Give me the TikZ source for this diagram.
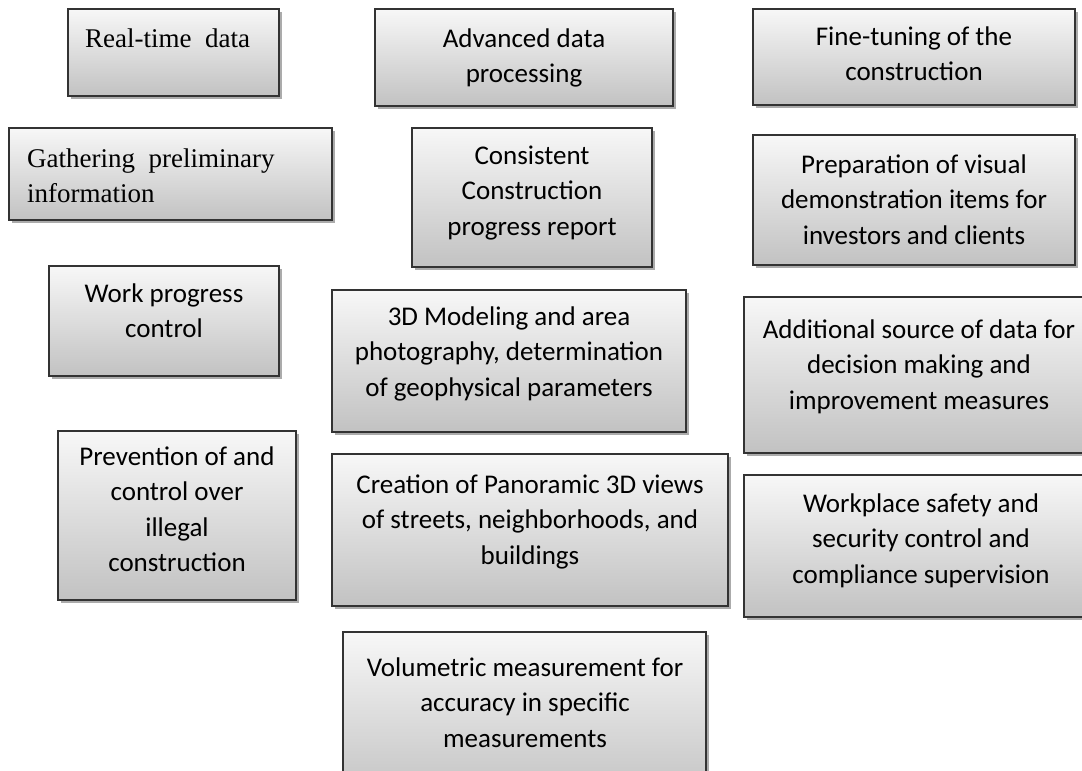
\documentclass[tikz,border=0pt]{standalone}
\usepackage{fontspec}
\setmainfont{Liberation Serif}
\setsansfont{Carlito}
\usetikzlibrary{shadows}
\begin{document}
\begin{tikzpicture}[x=1pt,y=-1pt,
  box/.style={draw=black!80,line width=1.3pt,top color=gray!6,bottom color=gray!48,inner sep=0pt,outer sep=0pt,
    drop shadow={shadow xshift=2.5pt,shadow yshift=-2.5pt,fill=black!55,opacity=.6}},
  txt/.style={font=\sffamily\fontsize{27}{35.5}\selectfont,align=center,anchor=base,inner sep=0pt},
  rtxt/.style={font=\rmfamily\fontsize{27}{35}\selectfont,align=left,anchor=base west,inner sep=0pt}]
\useasboundingbox (0,0) rectangle (1082,771);
% boxes: name/left/top/right/bottom
\foreach \n/\a/\b/\c/\d in {rt/68/9/279/96,adp/375/9/673/106,fine/753/9/1075/105,gath/9/128/332/220,cons/412/128/652/267,prep/753/135/1075/265,work/49/266/279/376,model/332/290/686/432,addsrc/744/297/1100/453,prev/58/431/296/600,pano/332/454/728/606,safe/744/475/1100/617,vol/343/632/706/800}
  {\node[box,minimum width={(\c-\a)*1pt},minimum height={(\d-\b)*1pt}] (\n) at ({(\a+\c)/2},{(\b+\d)/2}) {};}
% texts (placed at the baseline of their last line)
\node[rtxt] (t-rt) at (85,47) {Real-time\ \ data};
\node[txt] (t-adp) at (524,82.5) {Advanced data\\processing};
\node[txt] (t-fine) at (914,80.5) {Fine-tuning of the\\construction};
\node[rtxt] (t-gath) at (27,202) {Gathering\ \ preliminary\\information};
\node[txt] (t-cons) at (532,235) {Consistent\\Construction\\progress report};
\node[txt] (t-prep) at (914,244) {Preparation of visual\\demonstration items for\\investors and clients};
\node[txt] (t-work) at (164,337.5) {Work progress\\control};
\node[txt] (t-model) at (509,396) {3D Modeling and area\\photography, determination\\of geophysical parameters};
\node[txt] (t-addsrc) at (919,409) {Additional source of data for\\decision making and\\improvement measures};
\node[txt] (t-prev) at (177,571.5) {Prevention of and\\control over\\illegal\\construction};
\node[txt] (t-pano) at (530,564) {Creation of Panoramic 3D views\\of streets, neighborhoods, and\\buildings};
\node[txt] (t-safe) at (921,583) {Workplace safety and\\security control and\\compliance supervision};
\node[txt] (t-vol) at (525,747) {Volumetric measurement for\\accuracy in specific\\measurements};
\end{tikzpicture}
\end{document}
